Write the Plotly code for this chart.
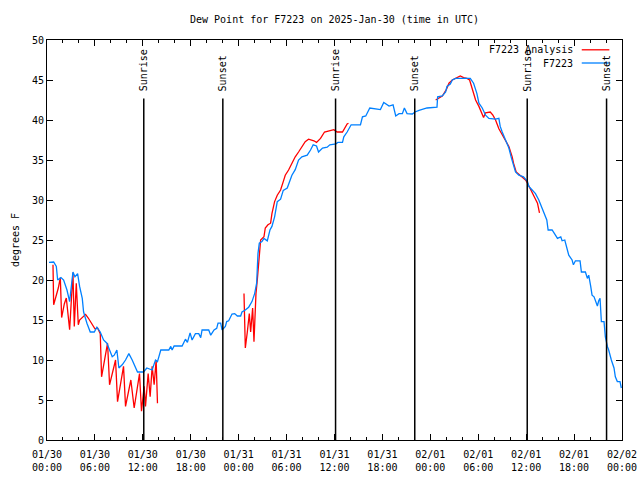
import pandas as pd
import plotly.graph_objects as go

# ---------------- data ----------------
base_time = "2025-01-30 00:00"
title_text = "Dew Point for F7223 on 2025-Jan-30 (time in UTC)"
y_label = "degrees F"
series_names = ["F7223 Analysis", "F7223"]

# observed dew point (minutes after base_time, degF)
obs_min = [15, 50, 70, 80, 105, 125, 150, 170, 195, 210,
           230, 245, 265, 275, 300, 325, 355, 375, 400, 425,
           450, 465, 490, 505, 525, 540, 565, 590, 615, 640,
           680, 725, 750, 790, 815, 830, 855, 915, 930, 940,
           955, 1015, 1040, 1055, 1075, 1090, 1115, 1140, 1155, 1165,
           1215, 1230, 1255, 1275, 1285, 1305, 1315, 1340, 1350, 1365,
           1390, 1410, 1430, 1455, 1465, 1490, 1515, 1540, 1560, 1575,
           1585, 1595, 1615, 1630, 1655, 1675, 1690, 1710, 1730, 1755,
           1775, 1805, 1830, 1840, 1865, 1890, 1915, 1955, 1980, 2000,
           2025, 2040, 2070, 2105, 2125, 2170, 2185, 2220, 2230, 2255,
           2285, 2355, 2370, 2395, 2425, 2505, 2530, 2570, 2600, 2620,
           2645, 2670, 2685, 2705, 2745, 2765, 2795, 2855, 2930, 2935,
           2970, 2995, 3005, 3030, 3045, 3070, 3180, 3205, 3230, 3245,
           3270, 3295, 3320, 3370, 3395, 3405, 3420, 3445, 3470, 3490,
           3505, 3520, 3545, 3580, 3610, 3620, 3645, 3670, 3695, 3720,
           3740, 3755, 3765, 3795, 3820, 3835, 3860, 3870, 3890, 3905,
           3920, 3945, 3955, 3970, 4005, 4015, 4045, 4060, 4070, 4085,
           4095, 4110, 4120, 4135, 4145, 4155, 4160, 4165, 4185, 4195,
           4210, 4220, 4240, 4260, 4270, 4285, 4305, 4315]
obs_val = [22.2, 22.25, 21.7, 20.0, 20.3, 20.0, 18.75, 17.3, 21.0, 20.4,
           20.8, 19.2, 17.7, 16.0, 14.6, 13.5, 13.5, 14.1, 13.5, 12.5,
           12.1, 11.5, 10.4, 10.6, 11.25, 9.0, 9.4, 10.0, 10.8, 10.0,
           8.5, 8.5, 9.0, 8.75, 10.0, 9.8, 11.25, 11.25, 11.7, 11.25,
           11.75, 11.75, 12.6, 12.2, 13.4, 12.5, 13.3, 13.3, 12.8, 13.75,
           13.75, 13.1, 13.75, 13.96, 14.6, 14.6, 13.75, 14.2, 14.8, 14.9,
           15.75, 15.8, 15.5, 15.5, 16.0, 16.25, 16.6, 17.3, 18.3, 19.6,
           23.3, 24.6, 24.8, 25.2, 24.9, 26.25, 26.7, 27.9, 29.8, 30.1,
           31.2, 31.5, 32.5, 33.1, 33.8, 35.0, 35.4, 35.6, 36.25, 36.9,
           36.75, 36.0, 36.5, 36.6, 36.9, 37.0, 37.2, 37.2, 37.9, 38.5,
           39.4, 39.4, 40.4, 40.5, 41.5, 41.3, 42.2, 41.75, 41.9, 40.5,
           40.8, 40.8, 41.5, 40.8, 40.75, 41.0, 41.2, 41.5, 41.6, 42.9,
           43.0, 43.5, 44.2, 44.5, 45.0, 45.2, 45.2, 44.6, 43.3, 42.1,
           41.5, 40.6, 40.2, 40.1, 40.2, 39.2, 38.5, 37.5, 36.5, 35.2,
           34.4, 33.5, 33.1, 32.9, 32.3, 31.7, 31.25, 30.8, 30.0, 29.0,
           28.2, 27.5, 26.25, 26.25, 25.6, 25.2, 25.4, 24.9, 25.0, 24.2,
           23.1, 22.5, 21.9, 22.4, 22.4, 21.0, 21.0, 20.2, 20.6, 19.2,
           18.1, 17.9, 17.5, 16.75, 17.4, 17.7, 16.25, 14.8, 14.8, 12.9,
           11.7, 11.25, 10.0, 9.0, 7.9, 7.3, 7.3, 6.5]

# analysis dew point, three separate segments
ana1_min = [45, 50, 85, 100, 110, 130, 145, 170, 195, 205,
            220, 235, 245, 290, 310, 335, 360, 380, 400, 410,
            430, 455, 470, 515, 530, 575, 590, 630, 655, 695,
            710, 730, 740, 760, 775, 790, 805, 820, 830]
ana1_val = [21.9, 16.9, 19.0, 20.3, 15.3, 17.0, 17.75, 13.8, 20.9, 14.2,
            19.6, 14.4, 15.0, 15.7, 15.25, 14.6, 13.9, 14.0, 13.3, 7.9,
            9.6, 12.1, 6.9, 10.0, 4.8, 9.2, 4.2, 7.5, 4.0, 8.3,
            3.6, 6.7, 4.2, 8.3, 5.4, 9.2, 6.9, 10.0, 4.6]
ana2_min = [1480, 1490, 1505, 1520, 1530, 1545, 1555, 1570, 1580, 1595,
            1605, 1630, 1640, 1660, 1680, 1690, 1710, 1730, 1755, 1775,
            1790, 1815, 1840, 1865, 1890, 1915, 1940, 1965, 2005, 2025,
            2055, 2085, 2130, 2155, 2180, 2220, 2255, 2265]
ana2_val = [18.3, 11.5, 13.5, 15.8, 13.5, 16.5, 12.3, 18.3, 20.0, 23.75,
            25.0, 25.4, 26.5, 26.9, 27.1, 28.3, 29.8, 30.6, 31.25, 32.3,
            33.1, 33.75, 34.6, 35.4, 36.0, 36.7, 37.3, 37.6, 37.4, 37.2,
            37.7, 38.5, 38.7, 38.8, 38.5, 38.5, 39.5, 39.6]
ana3_min = [2920, 2945, 2970, 3000, 3020, 3045, 3070, 3095, 3105, 3130,
            3155, 3175, 3195, 3205, 3220, 3245, 3270, 3280, 3295, 3330,
            3350, 3370, 3395, 3420, 3445, 3470, 3495, 3505, 3525, 3555,
            3595, 3610, 3630, 3645, 3655, 3685, 3695, 3700]
ana3_val = [42.5, 42.7, 43.0, 43.8, 44.6, 45.0, 45.2, 45.5, 45.5, 45.3,
            45.2, 45.0, 44.0, 43.3, 42.5, 41.7, 40.8, 40.3, 40.9, 41.0,
            40.6, 40.0, 38.9, 38.1, 37.3, 36.7, 35.4, 34.6, 33.5, 33.1,
            32.5, 32.1, 31.5, 31.0, 30.6, 29.6, 28.75, 28.4]

sun_times = ["2025-01-30 12:07", "2025-01-30 22:01", "2025-01-31 12:08",
             "2025-01-31 22:03", "2025-02-01 12:08", "2025-02-01 22:04"]
sun_labels = ["Sunrise", "Sunset", "Sunrise", "Sunset", "Sunrise", "Sunset"]
sun_line_top = 42.7

x_range = ["2025-01-30 00:00", "2025-02-02 00:00"]
y_range = [0, 50]

# ---------------- build ----------------
t0 = pd.Timestamp(base_time)


def to_time(mins):
    return list(t0 + pd.to_timedelta(mins, unit="min"))


obs_x = to_time(obs_min)
ana_x, ana_y = [], []
for mins, vals in [(ana1_min, ana1_val), (ana2_min, ana2_val), (ana3_min, ana3_val)]:
    ana_x += to_time(mins) + [None]
    ana_y += list(vals) + [None]

FONT = "DejaVu Sans Mono"
RED = "#ff0000"
BLUE = "#0080ff"

fig = go.Figure()
fig.add_trace(go.Scatter(x=ana_x, y=ana_y, mode="lines", name=series_names[0],
                         line=dict(color=RED, width=1.3), connectgaps=False,
                         hoverinfo="skip"))
fig.add_trace(go.Scatter(x=obs_x, y=obs_val, mode="lines", name=series_names[1],
                         line=dict(color=BLUE, width=1.3), hoverinfo="skip"))

for t, lab in zip(sun_times, sun_labels):
    fig.add_shape(type="line", xref="x", yref="y", x0=t, x1=t, y0=0, y1=sun_line_top,
                  line=dict(color="black", width=1.5))
    fig.add_annotation(x=t, y=sun_line_top + 0.6, xref="x", yref="y", text=lab,
                       textangle=-90, showarrow=False, xanchor="center", yanchor="bottom",
                       font=dict(family=FONT, size=10, color="black"))

# gnuplot-style key at top right (text left of line sample)
key_rows = [(0.9755, RED), (0.9425, BLUE)]
for (yy, col), name in zip(key_rows, series_names):
    fig.add_annotation(xref="paper", yref="paper", x=0.919, y=yy, text=name,
                       showarrow=False, xanchor="right", yanchor="middle",
                       font=dict(family=FONT, size=10, color="black"))
    fig.add_shape(type="line", xref="paper", yref="paper", x0=0.930, x1=0.978,
                  y0=yy, y1=yy, line=dict(color=col, width=1.3))

fig.update_layout(
    width=640, height=480,
    margin=dict(l=47, r=18, t=40, b=40, autoexpand=False),
    paper_bgcolor="white", plot_bgcolor="white",
    showlegend=False,
    font=dict(family=FONT, size=10, color="black"),
    title=dict(text=title_text, x=0.5, xref="paper", xanchor="center",
               y=1 - 19 / 480, yref="container", yanchor="middle",
               font=dict(family=FONT, size=10, color="black")),
)
fig.update_xaxes(
    type="date", range=x_range, tick0=x_range[0], dtick=6 * 3600 * 1000,
    tickformat="%m/%d<br>%H:%M", showgrid=False, zeroline=False,
    showline=True, linecolor="black", linewidth=1, mirror="allticks",
    ticks="inside", ticklen=6, tickcolor="black", tickwidth=1,
    ticklabelstandoff=5,
    minor=dict(dtick=2 * 3600 * 1000, ticks="inside", ticklen=3,
               tickcolor="black", showgrid=False),
    tickfont=dict(family=FONT, size=10, color="black"),
)
fig.update_yaxes(
    range=y_range, dtick=5, showgrid=False, zeroline=False,
    showline=True, linecolor="black", linewidth=1, mirror="allticks",
    ticks="inside", ticklen=6, tickcolor="black", tickwidth=1,
    tickfont=dict(family=FONT, size=10, color="black"),
    title=dict(text=y_label, standoff=10, font=dict(family=FONT, size=10, color="black")),
)

fig.write_html("out.html", config={"displayModeBar": False},
               post_script="document.body.style.margin='0px';document.body.style.padding='0px';")
